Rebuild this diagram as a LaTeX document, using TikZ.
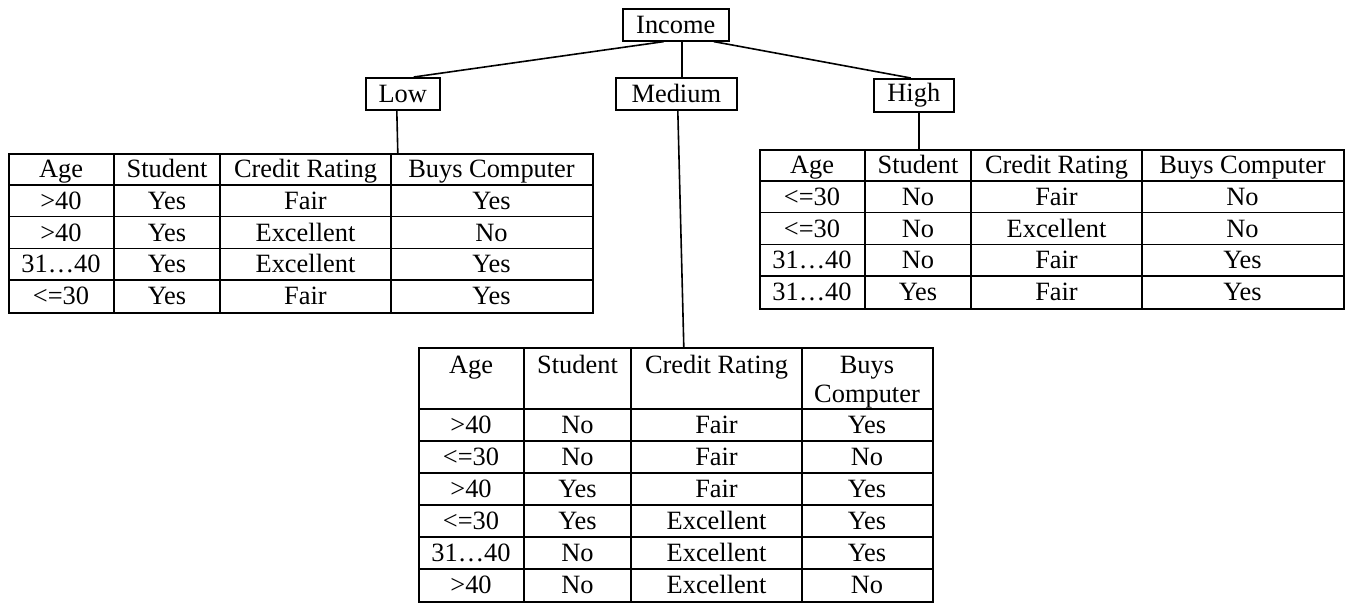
\documentclass[tikz,border=0pt]{standalone}
\usepackage{fontspec}
\setmainfont{Liberation Serif}
\usetikzlibrary{calc}
\begin{document}
\begin{tikzpicture}[x=0.5pt,y=-0.5pt,line width=0.8pt,
  treebox/.style={draw,rectangle,inner sep=0pt,anchor=north west,
    minimum height=16pt,font=\fontsize{13.2}{15}\selectfont},
  tabframe/.style={draw,rectangle,inner sep=0pt,anchor=north west},
  cell/.style={inner sep=0pt,anchor=base,font=\fontsize{13.2}{15}\selectfont},
  conn/.style={draw,line width=0.8pt}]
\useasboundingbox (0,0) rectangle (1352,602);

% tree boxes
\node[treebox,minimum width=53pt] (income) at (622,8) {Income};
\node[treebox,minimum width=37pt] (low) at (365,77) {Low};
\node[treebox,minimum width=60.5pt] (medium) at (615,77) {Medium};
\node[treebox,minimum width=40pt,minimum height=16.5pt] (high) at (873,78) {High};

% table frames
\node[tabframe,minimum width=292pt,minimum height=79.5pt] (lowtab) at (8,153) {};
\node[tabframe,minimum width=292pt,minimum height=79.5pt] (hightab) at (759,149) {};
\node[tabframe,minimum width=257pt,minimum height=127pt] (medtab) at (418,347) {};

% connectors
\draw[conn] ($(income.south)+(-12,0)$) -- ($(low.north)+(11,0)$);
\draw[conn] ($(income.south)+(6,0)$) -- ($(medium.north)+(5.5,0)$);
\draw[conn] ($(income.south)+(38,0)$) -- ($(high.north)+(-3,0)$);
\draw[conn] ($(low.south)+(-6,0)$) -- ($(lowtab.north)+(97,0)$);
\draw[conn] ($(medium.south)+(1.5,0)$) -- ($(medtab.north)+(8,0)$);
\draw[conn] ($(high.south)+(5,0)$) -- ($(hightab.north)+(-133,0)$);

% low table grid
\foreach \x in {114,220,391} \draw (\x,153) -- (\x,312);
\foreach \k in {1,...,4} \draw (8,{153+\k*31.8}) -- (592,{153+\k*31.8});
\foreach \a/\b/\c/\d [count=\r] in {Age/Student/Credit Rating/Buys Computer,
    >40/Yes/Fair/Yes, >40/Yes/Excellent/No, 31…40/Yes/Excellent/Yes, <=30/Yes/Fair/Yes}{
  \node[cell] (lt-\r-1) at (61,{153+(\r-0.5)*31.8+8.5}) {\a};
  \node[cell] (lt-\r-2) at (167,{153+(\r-0.5)*31.8+8.5}) {\b};
  \node[cell] (lt-\r-3) at (305.5,{153+(\r-0.5)*31.8+8.5}) {\c};
  \node[cell] (lt-\r-4) at (491.5,{153+(\r-0.5)*31.8+8.5}) {\d};
}

% high table grid
\foreach \x in {865,971,1142} \draw (\x,149) -- (\x,308);
\foreach \k in {1,...,4} \draw (759,{149+\k*31.8}) -- (1343,{149+\k*31.8});
\foreach \a/\b/\c/\d [count=\r] in {Age/Student/Credit Rating/Buys Computer,
    <=30/No/Fair/No, <=30/No/Excellent/No, 31…40/No/Fair/Yes, 31…40/Yes/Fair/Yes}{
  \node[cell] (ht-\r-1) at (812,{149+(\r-0.5)*31.8+8.5}) {\a};
  \node[cell] (ht-\r-2) at (918,{149+(\r-0.5)*31.8+8.5}) {\b};
  \node[cell] (ht-\r-3) at (1056.5,{149+(\r-0.5)*31.8+8.5}) {\c};
  \node[cell] (ht-\r-4) at (1242.5,{149+(\r-0.5)*31.8+8.5}) {\d};
}

% medium table grid
\foreach \x in {524,631,802} \draw (\x,347) -- (\x,601);
\foreach \k in {0,...,5} \draw (418,{409+\k*32}) -- (932,{409+\k*32});
\node[cell] (mt-h-1) at (471,373) {Age};
\node[cell] (mt-h-2) at (577.5,373) {Student};
\node[cell] (mt-h-3) at (716.5,373) {Credit Rating};
\node[cell] (mt-h-4a) at (867,373) {Buys};
\node[cell] (mt-h-4b) at (867,402) {Computer};
\foreach \a/\b/\c/\d [count=\r] in {>40/No/Fair/Yes, <=30/No/Fair/No, >40/Yes/Fair/Yes,
    <=30/Yes/Excellent/Yes, 31…40/No/Excellent/Yes, >40/No/Excellent/No}{
  \node[cell] (mt-\r-1) at (471,{409+(\r-0.5)*32+8.5}) {\a};
  \node[cell] (mt-\r-2) at (577.5,{409+(\r-0.5)*32+8.5}) {\b};
  \node[cell] (mt-\r-3) at (716.5,{409+(\r-0.5)*32+8.5}) {\c};
  \node[cell] (mt-\r-4) at (867,{409+(\r-0.5)*32+8.5}) {\d};
}
\end{tikzpicture}
\end{document}
